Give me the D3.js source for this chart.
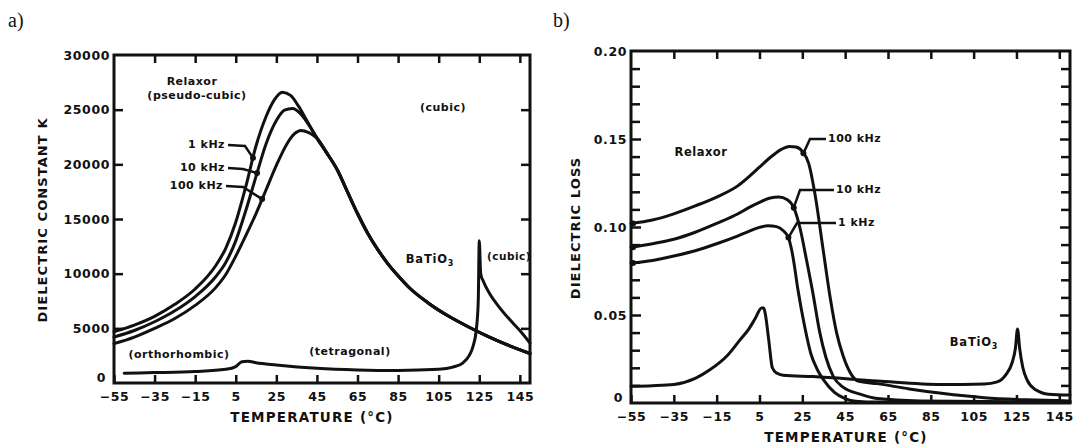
<!DOCTYPE html>
<html><head><meta charset="utf-8">
<script src="https://cdn.jsdelivr.net/npm/d3@7"></script>
<style>
body{margin:0;background:#fff;}
svg{display:block;}
text{font-family:"DejaVu Sans",sans-serif;font-weight:bold;fill:#111;}
</style></head><body>
<svg id="c" width="1081" height="446"></svg>
<script>
// ---------- data ----------
const tempTicks = [-55,-35,-15,5,25,45,65,85,105,125,145];
const kTicks = [0,5000,10000,15000,20000,25000,30000];
const lossTicks = [0,0.05,0.10,0.15,0.20];
const lossTickLabels = ["0","0.05","0.10","0.15","0.20"];
const lossMinor = [0.01,0.02,0.03,0.04,0.06,0.07,0.08,0.09,0.11,0.12,0.13,0.14,0.16,0.17,0.18,0.19];

// (a) dielectric constant K vs temperature
const kRelax1k = [[-55,4700],[-45,5300],[-35,6100],[-25,7200],[-15,8600],[-5,10700],[0,12300],[5,14700],[10,18000],[15,21700],[20,24400],[24,25900],[28,26600],[32,26300],[36,25300],[40,24000],[45,22400],[50,21000],[55,19500],[60,17500],[65,15500],[70,13700],[75,12200],[80,10900],[85,9800],[90,8800],[100,7300],[110,6100],[120,5100],[130,4200],[140,3400],[150,2700]];
const kRelax10k = [[-55,4200],[-45,4800],[-35,5600],[-25,6600],[-15,7900],[-5,9700],[0,11000],[5,13000],[10,15800],[15,18900],[20,21900],[25,24000],[29,24950],[33,25100],[37,24600],[41,23600],[45,22400],[50,21000],[55,19500],[60,17500],[65,15500],[70,13700],[75,12200],[80,10900],[85,9800],[90,8800],[100,7300],[110,6100],[120,5100],[130,4200],[140,3400],[150,2700]];
const kRelax100k = [[-55,3600],[-45,4200],[-35,5000],[-25,5900],[-15,7100],[-5,8700],[0,9900],[5,11600],[10,13500],[15,15500],[20,17700],[25,19900],[30,21800],[34,22800],[37,23100],[41,22900],[45,22400],[50,21000],[55,19500],[60,17500],[65,15500],[70,13700],[75,12200],[80,10900],[85,9800],[90,8800],[100,7300],[110,6100],[120,5100],[130,4200],[140,3400],[150,2700]];
const kBaTiO3 = [[-50,900],[-35,950],[-15,1050],[0,1250],[5,1500],[8,1950],[11,2000],[15,1850],[25,1650],[45,1350],[65,1200],[85,1150],[105,1250],[112,1450],[117,1850],[120,2500],[122,3400],[123.5,4800],[124.5,7500],[125,13000],[125.7,10000],[127,9300],[130,8200],[135,6900],[140,5800],[145,4800],[150,3650]];

// (b) dielectric loss vs temperature
const lossRelax1k = [[-55,0.0795],[-45,0.081],[-35,0.0835],[-25,0.0865],[-15,0.0905],[-5,0.095],[0,0.0975],[5,0.0998],[9,0.1007],[13,0.1002],[16,0.098],[18.5,0.094],[20.5,0.084],[23,0.064],[26,0.044],[29,0.028],[32,0.019],[35,0.013],[40,0.006],[45,0.0025],[50,0.001],[60,0.0005],[150,0.0003]];
const lossRelax10k = [[-55,0.0885],[-45,0.0905],[-35,0.093],[-25,0.097],[-15,0.102],[-5,0.1075],[0,0.111],[5,0.114],[10,0.1165],[14,0.117],[18,0.1155],[21,0.111],[24,0.099],[27,0.081],[30,0.062],[33,0.041],[36,0.026],[39.5,0.015],[44,0.009],[52,0.005],[60,0.0025],[80,0.0012],[150,0.0005]];
const lossRelax100k = [[-55,0.102],[-45,0.104],[-35,0.1075],[-25,0.112],[-15,0.117],[-5,0.1235],[0,0.1285],[5,0.134],[10,0.1395],[15,0.144],[19,0.1458],[22,0.1455],[25,0.143],[28,0.136],[31,0.118],[34.5,0.089],[38,0.060],[41,0.040],[44,0.027],[48,0.016],[51,0.0125],[60,0.011],[75,0.008],[90,0.0055],[110,0.003],[130,0.0018],[150,0.0012]];
const lossBaTiO3 = [[-55,0.0095],[-45,0.0098],[-35,0.0105],[-25,0.014],[-18,0.019],[-10,0.027],[-4,0.036],[0,0.042],[3,0.048],[6,0.054],[7,0.054],[7.8,0.050],[9.3,0.036],[11,0.020],[13,0.017],[16,0.0158],[30,0.015],[60,0.0125],[90,0.0105],[110,0.0108],[116,0.012],[120,0.016],[123,0.023],[124.5,0.031],[125.5,0.042],[126.5,0.031],[128,0.020],[130,0.013],[134,0.0075],[140,0.005],[150,0.0045]];

// ---------- drawing ----------
const svg = d3.select("#c");
const ink = "#111";

function interp(arr, t){
  for(let i=1;i<arr.length;i++){
    if(t<=arr[i][0]){const a=arr[i-1],b=arr[i];return a[1]+(b[1]-a[1])*(t-a[0])/(b[0]-a[0]);}
  }
  return arr[arr.length-1][1];
}

function panel(cfg){
  const g = svg.append("g");
  const x = d3.scaleLinear().domain([-55,150]).range([cfg.left,cfg.right]);
  const y = d3.scaleLinear().domain(cfg.yDomain).range([cfg.bottom,cfg.top]);
  g.append("rect").attr("x",cfg.left).attr("y",cfg.top)
    .attr("width",cfg.right-cfg.left).attr("height",cfg.bottom-cfg.top)
    .attr("fill","none").attr("stroke",ink).attr("stroke-width",3);
  const bx = d3.axisBottom(x).tickValues(tempTicks).tickSize(-8).tickPadding(6).tickFormat(d=>d<0?"\u2212"+(-d):d);
  const ga = g.append("g").attr("transform",`translate(0,${cfg.bottom})`).call(bx);
  ga.select(".domain").remove();
  ga.selectAll("line").attr("stroke",ink).attr("stroke-width",2.5);
  ga.selectAll("text").attr("font-size",12.5).attr("letter-spacing",0.6).attr("dy","0.95em");
  const tx = d3.axisTop(x).tickValues(tempTicks.slice(1)).tickSize(-8).tickFormat("");
  const gt = g.append("g").attr("transform",`translate(0,${cfg.top})`).call(tx);
  gt.select(".domain").remove();
  gt.selectAll("line").attr("stroke",ink).attr("stroke-width",2.5);
  const ly = d3.axisLeft(y).tickValues(cfg.yTicks).tickSize(-cfg.tickLen).tickPadding(4).tickFormat((d,i)=>cfg.yLabels[i]);
  const gl = g.append("g").attr("transform",`translate(${cfg.left},0)`).call(ly);
  gl.select(".domain").remove();
  gl.selectAll("line").attr("stroke",ink).attr("stroke-width",2.5);
  gl.selectAll("text").attr("font-size",12.5).attr("letter-spacing",0.6);
  gl.selectAll(".tick").filter(d=>d===cfg.yDomain[0]).select("text").attr("dy","-0.15em").attr("x",-8);
  gl.selectAll(".tick").filter(d=>d===cfg.yDomain[0]||d===cfg.yDomain[1]).select("line").remove();
  const ry = d3.axisRight(y).tickValues(cfg.yTicks.filter(d=>d>cfg.yDomain[0]&&d<cfg.yDomain[1])).tickSize(-cfg.tickLen).tickFormat("");
  const gr = g.append("g").attr("transform",`translate(${cfg.right},0)`).call(ry);
  gr.select(".domain").remove();
  gr.selectAll("line").attr("stroke",ink).attr("stroke-width",2.5);
  if(cfg.minor){
    const lm = d3.axisLeft(y).tickValues(cfg.minor).tickSize(-cfg.tickLen+1).tickFormat("");
    const gm = g.append("g").attr("transform",`translate(${cfg.left},0)`).call(lm);
    gm.select(".domain").remove(); gm.selectAll("line").attr("stroke",ink).attr("stroke-width",2.5);
    const rm = d3.axisRight(y).tickValues(cfg.minor).tickSize(-cfg.tickLen+1).tickFormat("");
    const gm2 = g.append("g").attr("transform",`translate(${cfg.right},0)`).call(rm);
    gm2.select(".domain").remove(); gm2.selectAll("line").attr("stroke",ink).attr("stroke-width",2.5);
  }
  g.append("text").attr("x",cfg.xTitleX).attr("y",cfg.bottom+39).attr("text-anchor","middle")
    .attr("font-size",13.5).attr("letter-spacing",1.2).text("TEMPERATURE (\u00B0C)");
  g.append("text").attr("transform",`translate(${cfg.yTitleX},${cfg.yTitleY}) rotate(-90)`)
    .attr("text-anchor","middle").attr("font-size",13).attr("letter-spacing",1.1).text(cfg.yTitle);
  const line = d3.line().x(d=>x(d[0])).y(d=>y(d[1])).curve(d3.curveMonotoneX);
  cfg.series.forEach(s=>{
    g.append("path").datum(s).attr("d",line).attr("fill","none")
      .attr("stroke",ink).attr("stroke-width",3).attr("stroke-linejoin","round").attr("stroke-linecap","round");
  });
  return {g,x,y};
}

const A = panel({left:114,right:530,top:55,bottom:383,yDomain:[0,30000],yTicks:kTicks,
  yLabels:kTicks.map(String),tickLen:9,xTitleX:312,yTitleX:47,yTitleY:220,
  yTitle:"DIELECTRIC CONSTANT K",series:[kRelax1k,kRelax10k,kRelax100k,kBaTiO3]});
const B = panel({left:631,right:1070,top:51,bottom:403,yDomain:[0,0.20],yTicks:lossTicks,
  yLabels:lossTickLabels,tickLen:10,minor:lossMinor,xTitleX:846,yTitleX:580,yTitleY:228,
  yTitle:"DIELECTRIC LOSS",series:[lossRelax1k,lossRelax10k,lossRelax100k,lossBaTiO3]});

function label(g,x,y,txt,anchor,size){
  return g.append("text").attr("x",x).attr("y",y).attr("text-anchor",anchor||"middle")
    .attr("dominant-baseline","middle").attr("font-size",size||11).attr("letter-spacing",0.5).text(txt);
}
function bati(g,x,y){
  const t=g.append("text").attr("x",x).attr("y",y).attr("text-anchor","middle")
    .attr("dominant-baseline","middle").attr("font-size",11.5).attr("letter-spacing",0.8);
  t.append("tspan").text("BaTiO");
  t.append("tspan").attr("font-size",8).attr("dy",4).text("3");
}
function leader(P,series,t,pts){
  const ax=P.x(t), ay=P.y(interp(series,t));
  const all=pts.concat([[ax,ay]]);
  P.g.append("path").attr("d",d3.line()(all)).attr("fill","none").attr("stroke",ink).attr("stroke-width",2.5);
  P.g.append("circle").attr("cx",ax).attr("cy",ay).attr("r",3).attr("fill",ink);
}

// annotations a
label(A.g,192,82,"Relaxor");
label(A.g,197,96,"(pseudo-cubic)");
label(A.g,443,108,"(cubic)");
label(A.g,225,145,"1 kHz","end");
label(A.g,225,168,"10 kHz","end");
label(A.g,223,186,"100 kHz","end");
leader(A,kRelax1k,13.5,[[228,145],[245,146]]);
leader(A,kRelax10k,15.5,[[228,168],[243,169]]);
leader(A,kRelax100k,18,[[226,186],[243,187]]);
bati(A.g,430,259);
label(A.g,509,257,"(cubic)",null,10.5);
label(A.g,179,355,"(orthorhombic)");
label(A.g,350,352,"(tetragonal)");

// annotations b
label(B.g,701,152,"Relaxor",null,11.5);
label(B.g,828,139,"100 kHz","start");
label(B.g,836,190,"10 kHz","start");
label(B.g,838,223,"1 kHz","start");
leader(B,lossRelax100k,25.5,[[826,139],[810,139]]);
leader(B,lossRelax10k,21,[[834,190],[800,190]]);
leader(B,lossRelax1k,18.5,[[836,223],[797,223]]);
[lossRelax1k,lossRelax10k,lossRelax100k].forEach(s=>{
  B.g.append("circle").attr("cx",B.x(s[0][0])+2).attr("cy",B.y(s[0][1])).attr("r",3).attr("fill",ink);
});
bati(B.g,974,342);

svg.append("text").attr("x",8).attr("y",27).style("font-family","'Liberation Serif',serif").style("font-weight","normal").attr("font-size",20).text("a)");
svg.append("text").attr("x",553).attr("y",27).style("font-family","'Liberation Serif',serif").style("font-weight","normal").attr("font-size",20).text("b)");
</script>
</body></html>
